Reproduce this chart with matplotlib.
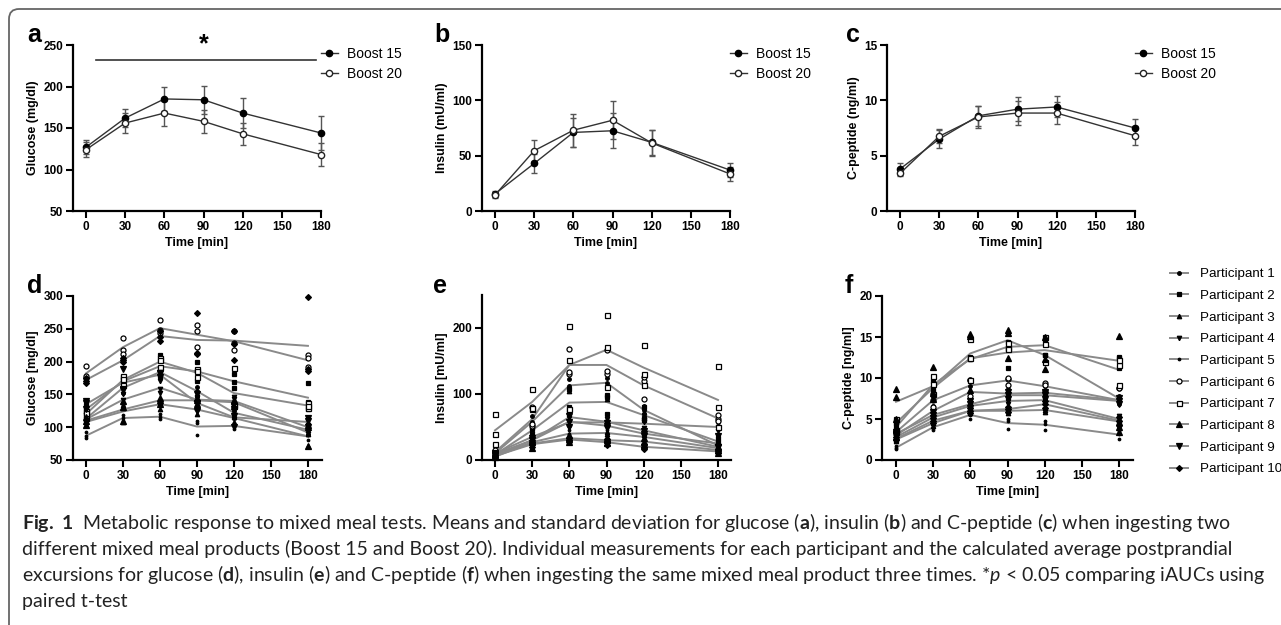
import matplotlib
matplotlib.use("Agg")
import matplotlib.pyplot as plt
from matplotlib.lines import Line2D
from matplotlib.patches import FancyBboxPatch
from matplotlib.transforms import IdentityTransform

# ---------------- data ----------------
time = [0, 30, 60, 90, 120, 180]
xticks = [0, 30, 60, 90, 120, 150, 180]

glucose_b15 = [127, 162, 185, 184, 168, 144]
glucose_b15_sd = [8, 11, 15, 17, 18, 20]
glucose_b20 = [124, 156, 168, 158, 143, 118]
glucose_b20_sd = [9, 12, 15, 14, 13, 14]

insulin_b15 = [15.5, 43, 71, 72.5, 62, 37]
insulin_b15_sd = [3, 8.5, 13, 16, 11.5, 6.5]
insulin_b20 = [14.5, 54.5, 73, 82, 61.5, 33.5]
insulin_b20_sd = [3, 9.5, 15, 17, 11.5, 6.5]

cpep_b15 = [3.8, 6.5, 8.6, 9.2, 9.4, 7.5]
cpep_b15_sd = [0.55, 0.8, 0.9, 1.1, 0.95, 0.8]
cpep_b20 = [3.4, 6.75, 8.5, 8.85, 8.85, 6.8]
cpep_b20_sd = [0.25, 0.65, 1.0, 1.1, 1.0, 0.85]

participants = ["Participant %d" % i for i in range(1, 11)]

# average excursions (lines), one list per participant
glucose_avg = [
    [113, 160, 184, 155, 122, 96],
    [127, 170, 193, 185, 170, 145],
    [108, 124, 135, 127, 114, 86],
    [112, 142, 160, 142, 140, 100],
    [87, 114, 116, 101, 102, 86],
    [182, 222, 251, 241, 231, 202],
    [120, 172, 200, 183, 152, 133],
    [110, 127, 141, 141, 138, 92],
    [135, 168, 180, 137, 115, 108],
    [172, 202, 239, 233, 232, 224],
]
# three repeated measurements per time point, per participant
glucose_reps = [
    [[108, 118, 113], [152, 168, 160], [176, 190, 186], [148, 162, 155], [114, 128, 124], [90, 101, 97]],
    [[120, 134, 127], [162, 176, 172], [178, 210, 191], [170, 200, 185], [160, 181, 169], [128, 168, 139]],
    [[104, 112, 108], [108, 130, 134], [128, 138, 139], [120, 132, 129], [108, 118, 116], [72, 90, 96]],
    [[106, 118, 112], [134, 150, 142], [152, 170, 158], [136, 146, 144], [131, 146, 143], [94, 104, 102]],
    [[83, 92, 86], [110, 118, 114], [112, 120, 116], [88, 106, 109], [98, 104, 104], [80, 88, 90]],
    [[194, 175, 178], [236, 218, 212], [263, 248, 243], [256, 246, 222], [247, 229, 217], [210, 205, 192]],
    [[114, 124, 122], [165, 178, 173], [205, 203, 192], [176, 188, 185], [190, 132, 134], [137, 130, 132]],
    [[104, 116, 110], [110, 140, 131], [136, 145, 142], [136, 145, 142], [132, 142, 140], [72, 104, 100]],
    [[140, 128, 137], [189, 158, 157], [182, 176, 182], [124, 150, 137], [100, 128, 117], [100, 114, 110]],
    [[170, 175, 168], [202, 205, 199], [238, 232, 247], [274, 213, 212], [227, 246, 202], [299, 189, 186]],
]

insulin_avg = [
    [10, 58, 113, 117, 76, 22],
    [8, 45, 87, 88, 68, 28],
    [6, 30, 65, 58, 45, 20],
    [10, 35, 57, 57, 55, 50],
    [5, 27, 40, 41, 35, 18],
    [12, 62, 144, 144, 113, 63],
    [45, 88, 144, 167, 140, 91],
    [7, 25, 33, 30, 28, 15],
    [9, 30, 58, 52, 40, 25],
    [6, 24, 31, 27, 20, 13],
]
insulin_reps = [
    [[8, 12, 10], [50, 58, 66], [106, 122, 112], [110, 125, 116], [70, 82, 76], [18, 26, 22]],
    [[6, 10, 8], [38, 50, 47], [80, 74, 107], [70, 95, 99], [60, 80, 64], [22, 34, 28]],
    [[4, 8, 6], [18, 36, 36], [55, 104, 36], [40, 92, 42], [38, 72, 25], [14, 26, 20]],
    [[8, 12, 10], [30, 40, 35], [50, 64, 57], [52, 62, 57], [48, 60, 57], [44, 56, 50]],
    [[3, 7, 5], [22, 32, 27], [34, 46, 40], [36, 46, 41], [30, 40, 35], [14, 22, 18]],
    [[10, 15, 11], [80, 52, 54], [168, 130, 134], [130, 135, 167], [93, 120, 126], [62, 68, 59]],
    [[70, 40, 24], [107, 78, 79], [203, 152, 77], [220, 171, 110], [175, 130, 114], [143, 80, 50]],
    [[5, 9, 7], [18, 28, 29], [28, 38, 33], [26, 34, 30], [22, 34, 28], [10, 20, 15]],
    [[7, 11, 9], [26, 34, 30], [50, 66, 58], [48, 56, 52], [36, 44, 40], [20, 36, 19]],
    [[4, 8, 6], [20, 28, 24], [28, 34, 31], [22, 32, 27], [16, 24, 20], [10, 16, 13]],
]

cpep_avg = [
    [3.0, 6.0, 8.3, 8.1, 8.2, 7.3],
    [4.5, 8.8, 12.4, 13.1, 13.4, 12.1],
    [2.5, 4.5, 6.0, 6.0, 6.1, 4.7],
    [2.8, 5.2, 6.6, 7.2, 7.3, 5.0],
    [1.5, 4.0, 5.5, 4.5, 4.3, 3.1],
    [3.4, 7.3, 9.1, 9.7, 9.0, 7.3],
    [4.0, 9.2, 12.3, 13.8, 14.0, 11.0],
    [7.1, 9.0, 13.0, 14.6, 12.8, 7.5],
    [3.2, 5.5, 6.8, 7.9, 7.9, 7.2],
    [2.6, 4.8, 6.0, 6.2, 6.8, 4.8],
]
cpep_reps = [
    [[2.7, 3.3, 3.0], [5.4, 6.6, 6.0], [7.6, 9.0, 8.3], [7.5, 8.7, 8.1], [7.4, 9.0, 8.2], [6.8, 7.8, 7.3]],
    [[4.2, 4.8, 4.5], [8.2, 9.6, 8.6], [12.3, 12.6, 12.3], [11.2, 14.4, 13.7], [12.8, 14.6, 12.8], [12.5, 11.2, 12.6]],
    [[2.3, 2.7, 2.5], [4.2, 4.8, 4.5], [5.7, 6.3, 6.0], [5.7, 6.3, 6.0], [5.8, 6.4, 6.1], [4.4, 5.0, 4.7]],
    [[2.6, 3.0, 2.8], [4.8, 5.6, 5.2], [6.2, 7.0, 6.6], [6.8, 7.6, 7.2], [6.9, 7.7, 7.3], [4.6, 5.4, 5.0]],
    [[1.4, 1.7, 1.5], [3.7, 4.3, 4.0], [5.0, 6.0, 5.5], [3.8, 5.0, 4.7], [3.7, 4.8, 4.4], [2.6, 3.5, 3.2]],
    [[3.2, 3.6, 3.4], [7.3, 6.5, 8.1], [7.8, 9.8, 9.7], [9.9, 9.2, 10.0], [8.4, 9.4, 9.2], [4.3, 8.8, 8.8]],
    [[5.0, 3.4, 3.6], [9.3, 10.2, 8.1], [9.7, 12.4, 14.8], [13.6, 14.3, 13.5], [14.2, 11.9, 15.0], [11.6, 9.2, 12.2]],
    [[8.6, 7.7, 5.0], [11.3, 8.2, 7.5], [15.4, 15.1, 8.5], [15.8, 15.5, 12.5], [15.0, 12.3, 11.1], [15.1, 4.0, 3.4]],
    [[3.0, 3.4, 3.2], [5.1, 5.9, 5.5], [6.4, 7.2, 6.8], [7.5, 8.3, 7.9], [7.5, 8.3, 7.9], [6.8, 7.6, 7.2]],
    [[2.4, 2.8, 2.6], [4.5, 5.1, 4.8], [5.7, 6.3, 6.0], [5.9, 6.5, 6.2], [6.4, 7.2, 6.8], [4.3, 5.3, 4.8]],
]

caption_lines = [
    r"$\mathbf{Fig.\ 1}$  Metabolic response to mixed meal tests. Means and standard deviation for glucose ($\mathbf{a}$), insulin ($\mathbf{b}$) and C-peptide ($\mathbf{c}$) when ingesting two",
    "different mixed meal products (Boost 15 and Boost 20). Individual measurements for each participant and the calculated average postprandial",
    r"excursions for glucose ($\mathbf{d}$), insulin ($\mathbf{e}$) and C-peptide ($\mathbf{f}$) when ingesting the same mixed meal product three times. *$p$ < 0.05 comparing iAUCs using",
    "paired t-test",
]

# ---------------- style ----------------
plt.rcParams["font.family"] = ["Liberation Sans", "DejaVu Sans"]
plt.rcParams["mathtext.fontset"] = "custom"
plt.rcParams["mathtext.rm"] = "Lato"
plt.rcParams["mathtext.bf"] = "Lato:bold"
plt.rcParams["mathtext.it"] = "Lato:italic"

W, H = 1281, 625
fig = plt.figure(figsize=(W / 100, H / 100), dpi=100)
fig.patch.set_facecolor("white")


def ax_at(left, top, right, bottom):
    return fig.add_axes([left / W, 1 - bottom / H, (right - left) / W, (bottom - top) / H])


def style(ax, xlim, ylim, yticks, ylabel):
    ax.set_xlim(*xlim)
    ax.set_ylim(*ylim)
    ax.set_xticks(xticks)
    ax.set_yticks(yticks)
    for s in ("top", "right"):
        ax.spines[s].set_visible(False)
    for s in ("left", "bottom"):
        ax.spines[s].set_linewidth(1.6)
    ax.tick_params(direction="out", length=5, width=1.5, labelsize=8.5, pad=2)
    for lab in ax.get_xticklabels() + ax.get_yticklabels():
        lab.set_fontweight("bold")
    ax.set_xlabel("Time [min]", fontsize=9, fontweight="bold", labelpad=3)
    ax.set_ylabel(ylabel, fontsize=9, fontweight="bold", labelpad=3)
    ax.patch.set_alpha(0)


def mean_panel(ax, m15, s15, m20, s20):
    ax.errorbar(time, m15, yerr=s15, fmt="none", ecolor="#555555", elinewidth=1,
                capsize=2.5, capthick=1, clip_on=False, zorder=2)
    ax.errorbar(time, m20, yerr=s20, fmt="none", ecolor="#555555", elinewidth=1,
                capsize=2.5, capthick=1, clip_on=False, zorder=2)
    ax.plot(time, m15, color="#333333", lw=1, marker="o", ms=4.5, mfc="black",
            mec="black", clip_on=False, zorder=3, label="Boost 15")
    ax.plot(time, m20, color="#333333", lw=1, marker="o", ms=4.5, mfc="white",
            mec="#222222", mew=1, clip_on=False, zorder=3, label="Boost 20")
    leg = ax.legend(loc="upper left", bbox_to_anchor=(1.0, 0.99), frameon=False,
                    fontsize=10, handlelength=1.2, handletextpad=0.7,
                    labelspacing=0.48, borderpad=0, borderaxespad=0)
    return leg


p_markers = [
    dict(marker="o", ms=2.6, mfc="black"),
    dict(marker="s", ms=3.2, mfc="black"),
    dict(marker="^", ms=3.2, mfc="black"),
    dict(marker="v", ms=3.2, mfc="black"),
    dict(marker="o", ms=1.8, mfc="black"),
    dict(marker="o", ms=3.6, mfc="white"),
    dict(marker="s", ms=3.6, mfc="white"),
    dict(marker="^", ms=4.4, mfc="black"),
    dict(marker="v", ms=4.4, mfc="black"),
    dict(marker="D", ms=3.0, mfc="black"),
]


def indiv_panel(ax, avg, reps):
    for i in range(10):
        ax.plot(time, avg[i], color="#8a8a8a", lw=1.4, zorder=2, clip_on=False)
    for i in range(10):
        xs, ys = [], []
        for j, t in enumerate(time):
            for v in reps[i][j]:
                xs.append(t)
                ys.append(v)
        ax.plot(xs, ys, ls="none", mec="black", mew=0.9, zorder=3, clip_on=False,
                **p_markers[i])


# ---------------- top row ----------------
axa = ax_at(73, 45, 321, 211)
mean_panel(axa, glucose_b15, glucose_b15_sd, glucose_b20, glucose_b20_sd)
style(axa, (-10, 180), (50, 250), [50, 100, 150, 200, 250], "Glucose (mg/dl)")
axa.plot([8, 176], [232, 232], color="#333333", lw=1.2, clip_on=False)
axa.text(90, 251, "*", fontsize=18, fontweight="bold", ha="center", va="center")

axb = ax_at(482, 45, 730, 211)
mean_panel(axb, insulin_b15, insulin_b15_sd, insulin_b20, insulin_b20_sd)
style(axb, (-10, 180), (0, 150), [0, 50, 100, 150], "Insulin (mU/ml)")

axc = ax_at(887, 45, 1135, 211)
mean_panel(axc, cpep_b15, cpep_b15_sd, cpep_b20, cpep_b20_sd)
style(axc, (-10, 180), (0, 15), [0, 5, 10, 15], "C-peptide (ng/ml)")

# ---------------- bottom row ----------------
axd = ax_at(73, 296, 322, 460)
indiv_panel(axd, glucose_avg, glucose_reps)
style(axd, (-10.5, 191.4), (50, 300), [50, 100, 150, 200, 250, 300], "Glucose [mg/dl]")

axe = ax_at(482, 295, 731, 460)
indiv_panel(axe, insulin_avg, insulin_reps)
style(axe, (-10.5, 190.5), (0, 250), [0, 100, 200], "Insulin [mU/ml]")

axf = ax_at(882, 296, 1133, 460)
indiv_panel(axf, cpep_avg, cpep_reps)
style(axf, (-11.3, 191.3), (0, 20), [0, 5, 10, 15, 20], "C-peptide [ng/ml]")

handles = [Line2D([], [], color="#8a8a8a", lw=1.4, mec="black", mew=0.9, **p_markers[i])
           for i in range(10)]
axf.legend(handles, participants, loc="upper left", bbox_to_anchor=(1.146, 1.17),
           frameon=False, fontsize=9.6, handlelength=1.4, handletextpad=0.85,
           labelspacing=0.7, borderpad=0, borderaxespad=0)

# panel letters
for lx, ly, letter in [(27, 42, "a"), (434, 42, "b"), (846, 42, "c"),
                       (27, 293, "d"), (433, 293, "e"), (845, 293, "f")]:
    fig.text(lx / W, 1 - ly / H, letter, fontsize=18, fontweight="bold",
             ha="left", va="baseline")

# caption
for k, line in enumerate(caption_lines):
    fig.text(22 / W, 1 - (529 + 26 * k) / H, line, fontsize=14.0, family="Lato",
             ha="left", va="baseline", color="#222222")

# rounded border (open at right and bottom)
border = FancyBboxPatch((9, -60), 1400, H - 9 + 60,
                        boxstyle="round,pad=0,rounding_size=10",
                        transform=IdentityTransform(), fill=False,
                        ec="#666666", lw=1.3)
fig.add_artist(border)

fig.savefig("out.png", dpi=100, facecolor="white")
